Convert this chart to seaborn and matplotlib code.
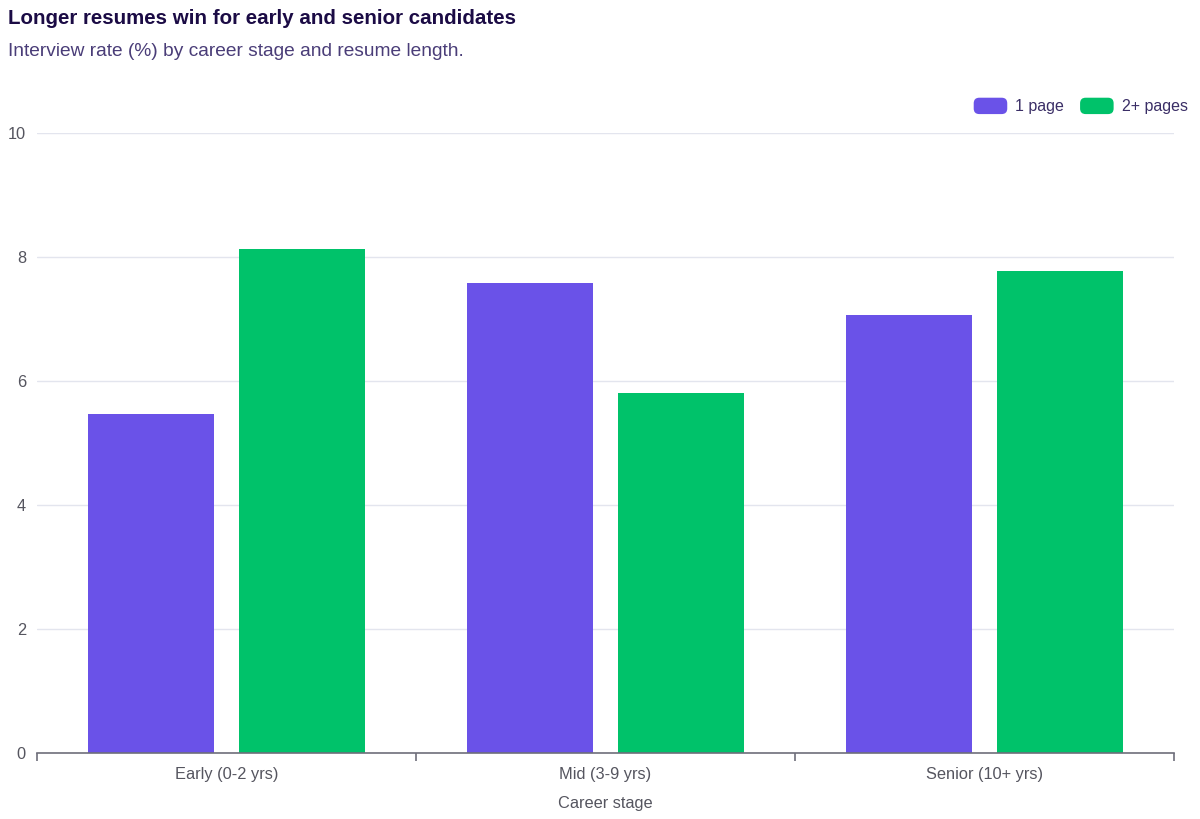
import matplotlib
matplotlib.use("Agg")
import matplotlib.pyplot as plt
import seaborn as sns
import pandas as pd
from matplotlib.patches import FancyBboxPatch
from matplotlib.legend_handler import HandlerPatch
from matplotlib.patches import Patch

categories = ["Early (0-2 yrs)", "Mid (3-9 yrs)", "Senior (10+ yrs)"]
series_names = ["1 page", "2+ pages"]
one_page = [5.46, 7.58, 7.06]
two_pages = [8.13, 5.80, 7.77]
y_ticks = [0, 2, 4, 6, 8, 10]
colors = ["#6A52E8", "#00C26A"]

rows = []
for c, a, b in zip(categories, one_page, two_pages):
    rows.append({"stage": c, "length": series_names[0], "rate": a})
    rows.append({"stage": c, "length": series_names[1], "rate": b})
df = pd.DataFrame(rows)

sns.set_theme(style="white")
plt.rcParams["font.family"] = ["Liberation Sans", "DejaVu Sans"]

fig = plt.figure(figsize=(12, 8.19), dpi=100)
ax = fig.add_axes([37/1200, 1-753/819, (1174-37)/1200, (753-133)/819])

sns.barplot(data=df, x="stage", y="rate", hue="length", order=categories,
            hue_order=series_names, palette=colors, width=0.797, gap=0.17,
            saturation=1, errorbar=None, ax=ax, legend=False, linewidth=0)

ax.set_ylim(0, 10)
ax.set_xlim(-0.5, 2.5)
ax.set_yticks(y_ticks)
ax.set_yticklabels([str(t) for t in y_ticks])
ax.yaxis.grid(True, color="#E3E5EE", linewidth=1)
ax.set_axisbelow(True)
for s in ["top", "right", "left"]:
    ax.spines[s].set_visible(False)
ax.spines["bottom"].set_color("#6E6E7A")
ax.spines["bottom"].set_linewidth(1.2)

ax.set_xticks([0, 1, 2])
ax.set_xticklabels(categories)
ax.set_xticks([-0.5, 0.5, 1.5, 2.5], minor=True)
ax.tick_params(axis="x", which="major", bottom=True, length=0, pad=10, labelsize=11.8, labelcolor="#55555F")
ax.tick_params(axis="x", which="minor", bottom=True, length=6, width=1.2, color="#6E6E7A", direction="out")
ax.tick_params(axis="y", length=0, pad=8, labelsize=11.8, labelcolor="#55555F")
ax.set_xlabel("Career stage", fontsize=11.8, color="#55555F", labelpad=10)
ax.set_ylabel("")

fig.text(8/1200, 1-18/819, "Longer resumes win for early and senior candidates",
         fontsize=14.8, fontweight="bold", color="#1B0B45", va="center", ha="left")
fig.text(8/1200, 1-51/819, "Interview rate (%) by career stage and resume length.",
         fontsize=13.8, color="#4A3D78", va="center", ha="left")


class RoundHandler(HandlerPatch):
    def create_artists(self, legend, orig_handle, xdescent, ydescent, width, height, fontsize, trans):
        p = FancyBboxPatch((-xdescent, -ydescent), width, height,
                           boxstyle="round,pad=0,rounding_size=4",
                           facecolor=orig_handle.get_facecolor(), edgecolor="none",
                           transform=trans)
        return [p]

handles = [Patch(facecolor=c, label=n) for c, n in zip(colors, series_names)]
leg = fig.legend(handles=handles, loc="center right", bbox_to_anchor=(1194/1200, 1-106/819),
                 ncol=2, frameon=False, fontsize=11.5, handlelength=2.1, handleheight=1.2,
                 handletextpad=0.5, columnspacing=1.0, borderaxespad=0,
                 handler_map={Patch: RoundHandler()})
for t in leg.get_texts():
    t.set_color("#3A2E66")

fig.savefig("out.png", dpi=100)
